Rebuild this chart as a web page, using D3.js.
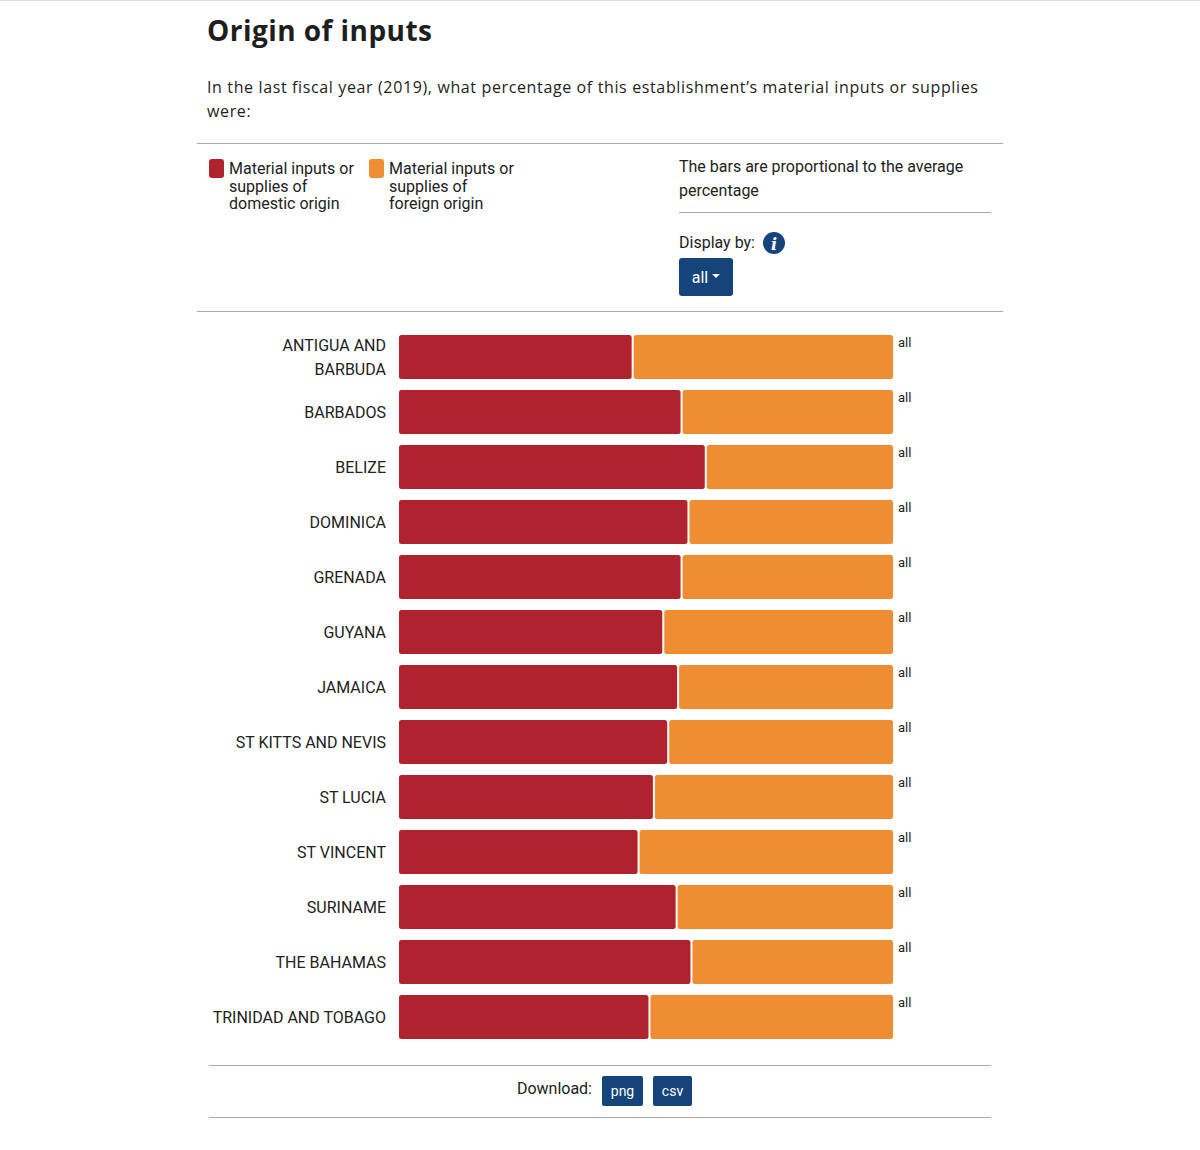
<!DOCTYPE html>
<head>
    <script src="https://d3js.org/d3.v7.min.js"></script>
    <style>
        body { margin: 0; background: #fff; }
        text { font-family: Roboto, "Noto Sans", sans-serif; fill: #222; }
        .title { font-family: "Open Sans", Montserrat, sans-serif; font-weight: 700; font-size: 28px; letter-spacing: 0.45px; fill: #1e1e1e; }
        .subtitle { font-family: "Open Sans", Montserrat, sans-serif; font-size: 16px; letter-spacing: 0.63px; fill: #1e1e1e; }
        .rule { stroke: #aaa; stroke-width: 1px; }
        .country { font-size: 16px; text-anchor: end; }
        .tag { font-size: 13px; }
        .btn { fill: #15447a; }
        .btntext { fill: #fff; font-size: 14px; text-anchor: middle; }
    </style>
</head>

<body>
    <script>
        // Data: share of material inputs of domestic origin (%),
        // the remainder is foreign origin.
        var countries = ["ANTIGUA AND BARBUDA", "BARBADOS", "BELIZE", "DOMINICA", "GRENADA", "GUYANA",
            "JAMAICA", "ST KITTS AND NEVIS", "ST LUCIA", "ST VINCENT", "SURINAME", "THE BAHAMAS",
            "TRINIDAD AND TOBAGO"];
        var domestic = [47.3, 57.2, 62.1, 58.6, 57.2, 53.5, 56.5, 54.5, 51.6, 48.5, 56.2, 59.2, 50.7];
        var foreign = domestic.map(function (d) { return +(100 - d).toFixed(1); });
        var seriesNames = ["Material inputs or supplies of domestic origin", "Material inputs or supplies of foreign origin"];
        var seriesColors = ["#b0222e", "#ee8d31"];

        var width = 1200, height = 1150;
        var svg = d3.select("body").append("svg")
            .attr("width", width)
            .attr("height", height);

        // top border of the page
        svg.append("line").attr("x1", 0).attr("x2", width).attr("y1", 0.5).attr("y2", 0.5)
            .style("stroke", "#ddd");

        // ****************** header ***************************
        svg.append("text").attr("class", "title").attr("x", 207).attr("y", 41).text("Origin of inputs");
        var sub = svg.append("text").attr("class", "subtitle").attr("x", 207).attr("y", 93);
        sub.append("tspan").attr("x", 207).text("In the last fiscal year (2019), what percentage of this establishment\u2019s material inputs or supplies");
        sub.append("tspan").attr("x", 207).attr("dy", 24).text("were:");

        function rule(x1, x2, y) {
            svg.append("line").attr("class", "rule")
                .attr("x1", x1).attr("x2", x2).attr("y1", y + 0.5).attr("y2", y + 0.5);
        }
        rule(197, 1003, 143);
        rule(679, 991, 212);
        rule(197, 1003, 311);
        rule(209, 991, 1065);
        rule(209, 991, 1117);

        // ****************** legend ***************************
        var legendX = [209, 369];
        seriesNames.forEach(function (name, i) {
            var g = svg.append("g").attr("transform", "translate(" + legendX[i] + ",159)");
            g.append("rect").attr("width", 15).attr("height", 19).attr("rx", 3)
                .style("fill", seriesColors[i]);
            var words = name.split(" ");
            var lines = [words.slice(0, 3).join(" "), words.slice(3, 5).join(" "), words.slice(5).join(" ")];
            var t = g.append("text").attr("x", 20).attr("y", 15).style("font-size", "16px");
            lines.forEach(function (l, j) {
                t.append("tspan").attr("x", 20).attr("dy", j ? 17.5 : 0).text(l);
            });
        });

        var note = svg.append("text").attr("x", 679).attr("y", 172).style("font-size", "16px");
        note.append("tspan").attr("x", 679).text("The bars are proportional to the average");
        note.append("tspan").attr("x", 679).attr("dy", 24).text("percentage");

        // Display by + info icon + dropdown button
        svg.append("text").attr("x", 679).attr("y", 248).style("font-size", "16px").text("Display by:");
        svg.append("circle").attr("cx", 774).attr("cy", 243).attr("r", 11).attr("class", "btn");
        svg.append("text").attr("x", 774).attr("y", 249.5)
            .style("fill", "#fff").style("font-family", "'DejaVu Serif', serif")
            .style("font-weight", "700").style("font-style", "italic").style("font-size", "16px")
            .attr("text-anchor", "middle").text("i");
        svg.append("rect").attr("class", "btn").attr("x", 679).attr("y", 258)
            .attr("width", 54).attr("height", 38).attr("rx", 3);
        svg.append("text").attr("x", 700).attr("y", 283).style("fill", "#fff")
            .style("font-size", "16px").attr("text-anchor", "middle").text("all");
        svg.append("path").attr("d", "M712 274 L720 274 L716 278 Z").style("fill", "#fff");

        // ****************** bars ***************************
        var x = d3.scaleLinear().domain([0, 100]).range([399, 893]);
        var y = d3.scaleBand().domain(countries).range([329.5, 1044.5])
            .paddingInner(0.2).paddingOuter(0.1);

        var rows = svg.append("g").selectAll("g.row")
            .data(countries.map(function (c, i) { return { name: c, dom: domestic[i], frn: foreign[i] }; }))
            .enter().append("g").attr("class", "row");

        rows.append("rect")
            .attr("x", x(0))
            .attr("y", function (d) { return y(d.name); })
            .attr("width", function (d) { return x(d.dom) - x(0) - 1; })
            .attr("height", y.bandwidth())
            .attr("rx", 2.5)
            .style("fill", seriesColors[0]);

        rows.append("rect")
            .attr("x", function (d) { return x(d.dom) + 1; })
            .attr("y", function (d) { return y(d.name); })
            .attr("width", function (d) { return x(d.dom + d.frn) - x(d.dom) - 1; })
            .attr("height", y.bandwidth())
            .attr("rx", 2.5)
            .style("fill", seriesColors[1]);

        rows.append("text").attr("class", "tag")
            .attr("x", 898)
            .attr("y", function (d) { return y(d.name) + 11.5; })
            .text("all");

        // Country labels, wrapped when too wide for the label column
        rows.append("text").attr("class", "country")
            .attr("x", 386)
            .attr("y", function (d) { return y(d.name) + y.bandwidth() / 2; })
            .each(function (d) {
                var el = d3.select(this);
                var words = d.name.split(" "), lines = [], line = [];
                var probe = el.append("tspan");
                words.forEach(function (w) {
                    line.push(w);
                    probe.text(line.join(" "));
                    if (probe.node().getComputedTextLength() > 178 && line.length > 1) {
                        line.pop();
                        lines.push(line.join(" "));
                        line = [w];
                    }
                });
                lines.push(line.join(" "));
                probe.remove();
                var lh = 24;
                lines.forEach(function (l, j) {
                    el.append("tspan").attr("x", 386)
                        .attr("dy", j ? lh : (6 - (lines.length - 1) * lh / 2))
                        .text(l);
                });
            });

        // ****************** download ***************************
        svg.append("text").attr("x", 592).attr("y", 1094).attr("text-anchor", "end")
            .style("font-size", "16px").text("Download:");
        [["png", 602, 41], ["csv", 653, 39]].forEach(function (b) {
            svg.append("rect").attr("class", "btn").attr("x", b[1]).attr("y", 1076)
                .attr("width", b[2]).attr("height", 30).attr("rx", 2);
            svg.append("text").attr("class", "btntext").attr("x", b[1] + b[2] / 2).attr("y", 1096).text(b[0]);
        });
    </script>
</body>
